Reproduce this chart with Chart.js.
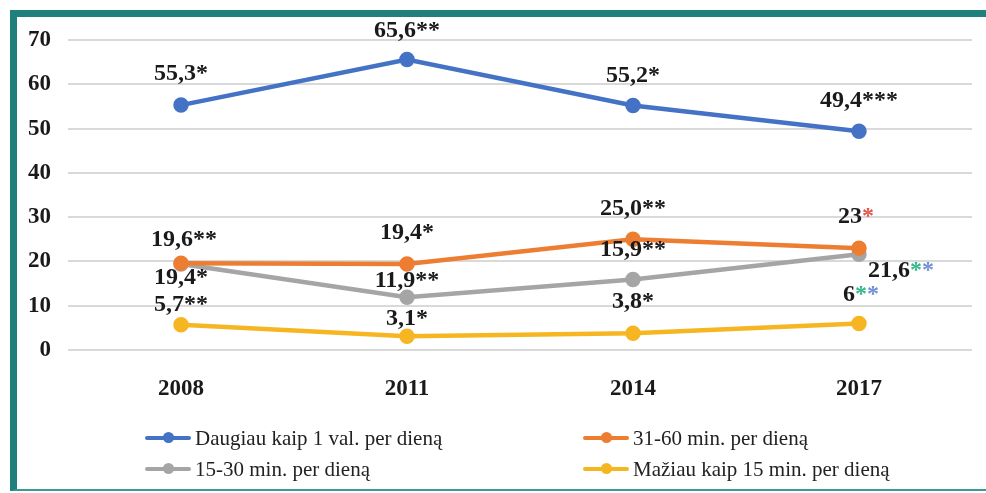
<!DOCTYPE html>
<html>
<head>
<meta charset="utf-8">
<script src="https://cdn.jsdelivr.net/npm/chart.js@4.4.1/dist/chart.umd.min.js"></script>
<style>
  body { margin: 0; background: #fff; }
  #wrap { position: relative; width: 986px; height: 493px; overflow: hidden; background: #fff; }
  #frame { position: absolute; left: 10px; top: 10px; right: 0; bottom: 2px;
           border-top: 7px solid #1f807c; border-left: 7px solid #1f807c; border-bottom: 2px solid #3a9a96; }
  #chartBox { position: absolute; left: 0; top: 0; width: 986px; height: 400px; }
  #legend { position: absolute; left: 0; top: 0; width: 986px; height: 493px; pointer-events: none;
            font-family: 'Liberation Serif', 'Times New Roman', serif; font-size: 21px; color: #222; }
  .item { position: absolute; display: flex; align-items: center; white-space: nowrap; }
  .mark { position: relative; width: 46px; height: 4px; margin-right: 4px; border-radius: 2px; }
  .mark i { position: absolute; left: 18px; top: -4px; width: 11px; height: 11px; border-radius: 50%; }
</style>
</head>
<body>
<div id="wrap">
  <div id="frame"></div>
  <div id="chartBox"><canvas id="lineChart"></canvas></div>
  <div id="legend"></div>
</div>
<script>
// data
const years = ['2008', '2011', '2014', '2017'];

const seriesNames = ['Daugiau kaip 1 val. per dieną', '31-60 min. per dieną',
                     '15-30 min. per dieną', 'Mažiau kaip 15 min. per dieną'];

const overHour = [55.3, 65.6, 55.2, 49.4];
const min31to60 = [19.6, 19.4, 25.0, 23];
const min15to30 = [19.4, 11.9, 15.9, 21.6];
const under15 = [5.7, 3.1, 3.8, 6];

const overHourLabels = ['55,3*', '65,6**', '55,2*', '49,4***'];
const min31to60Labels = ['19,6**', '19,4*', '25,0**', '23*'];
const min15to30Labels = ['19,4*', '11,9**', '15,9**', '21,6**'];
const under15Labels = ['5,7**', '3,1*', '3,8*', '6**'];

const yTicks = [0, 10, 20, 30, 40, 50, 60, 70];

// colours of the coloured asterisks (only some labels have them)
const starColors = {
  '1-3': ['#e2574c'],
  '2-3': ['#35b98c', '#6f8fd6'],
  '3-3': ['#35b98c', '#6f8fd6']
};

// where each label sits relative to its point [dx, dy]
const labelOffsets = [
  [[0, -31], [0, -29], [0, -30], [0, -30]],
  [[3, -23], [0, -31], [0, -30], [-3, -31]],
  [[0, 14], [0, -17], [0, -30], [42, 16]],
  [[0, -20], [0, -17], [0, -31], [2, -29]]
];

const colors = ['#4472c4', '#ed7d31', '#a5a5a5', '#f5b622'];

Chart.defaults.font.family = "'Liberation Serif', 'Times New Roman', serif";
Chart.defaults.color = '#1a1a1a';

const allLabels = [overHourLabels, min31to60Labels, min15to30Labels, under15Labels];

// draws the value labels with their asterisks
const valueLabels = {
  id: 'valueLabels',
  afterDatasetsDraw(chart) {
    const ctx = chart.ctx;
    ctx.save();
    ctx.font = 'bold 24px "Liberation Serif", "Times New Roman", serif';
    ctx.textBaseline = 'middle';
    ctx.textAlign = 'left';
    chart.data.datasets.forEach((ds, d) => {
      const meta = chart.getDatasetMeta(d);
      meta.data.forEach((pt, i) => {
        const txt = allLabels[d][i];
        const m = txt.match(/^([^*]*)(\**)$/);
        const num = m[1], stars = m[2];
        const full = ctx.measureText(txt).width;
        const off = labelOffsets[d][i];
        let x = pt.x + off[0] - full / 2;
        const y = pt.y + off[1];
        ctx.fillStyle = '#1a1a1a';
        ctx.fillText(num, x, y);
        x += ctx.measureText(num).width;
        const sc = starColors[d + '-' + i];
        for (let s = 0; s < stars.length; s++) {
          ctx.fillStyle = sc ? sc[s] || sc[0] : '#1a1a1a';
          ctx.fillText('*', x, y);
          x += ctx.measureText('*').width;
        }
      });
    });
    ctx.restore();
  }
};

const chart = new Chart(document.getElementById('lineChart'), {
  type: 'line',
  data: {
    labels: years,
    datasets: [overHour, min31to60, min15to30, under15].map((vals, i) => ({
      label: seriesNames[i],
      data: vals,
      borderColor: colors[i],
      backgroundColor: colors[i],
      borderWidth: 4.5,
      pointRadius: 5.5,
      pointHoverRadius: 5.5,
      tension: 0
    }))
  },
  options: {
    responsive: true,
    maintainAspectRatio: false,
    animation: false,
    layout: { padding: { top: 40, right: 14, left: 0, bottom: 0 } },
    plugins: { legend: { display: false }, tooltip: { enabled: false } },
    scales: {
      x: {
        offset: true,
        grid: { display: false },
        border: { display: false },
        ticks: { padding: 17, font: { size: 23, weight: 'bold' }, color: '#1a1a1a' },
        afterFit(scale) { scale.height = 50; }
      },
      y: {
        min: 0,
        max: 70,
        afterBuildTicks(scale) { scale.ticks = yTicks.map(v => ({ value: v })); },
        grid: { color: '#d9d9d9', lineWidth: 2, drawTicks: false },
        border: { display: false },
        ticks: { padding: 17, font: { size: 23, weight: 'bold' }, color: '#1a1a1a' },
        afterFit(scale) { scale.width = 68; }
      }
    }
  },
  plugins: [valueLabels]
});

// legend in two columns, built from the chart's datasets
const legendPos = [[145, 438], [583, 438], [145, 469], [583, 469]];
const legendEl = document.getElementById('legend');
chart.data.datasets.forEach((ds, i) => {
  const item = document.createElement('div');
  item.className = 'item';
  item.style.left = legendPos[i][0] + 'px';
  item.style.top = (legendPos[i][1] - 13) + 'px';
  item.style.height = '26px';
  const mark = document.createElement('span');
  mark.className = 'mark';
  mark.style.background = ds.borderColor;
  const dot = document.createElement('i');
  dot.style.background = ds.borderColor;
  mark.appendChild(dot);
  item.appendChild(mark);
  item.appendChild(document.createTextNode(ds.label));
  legendEl.appendChild(item);
});
</script>
</body>
</html>
